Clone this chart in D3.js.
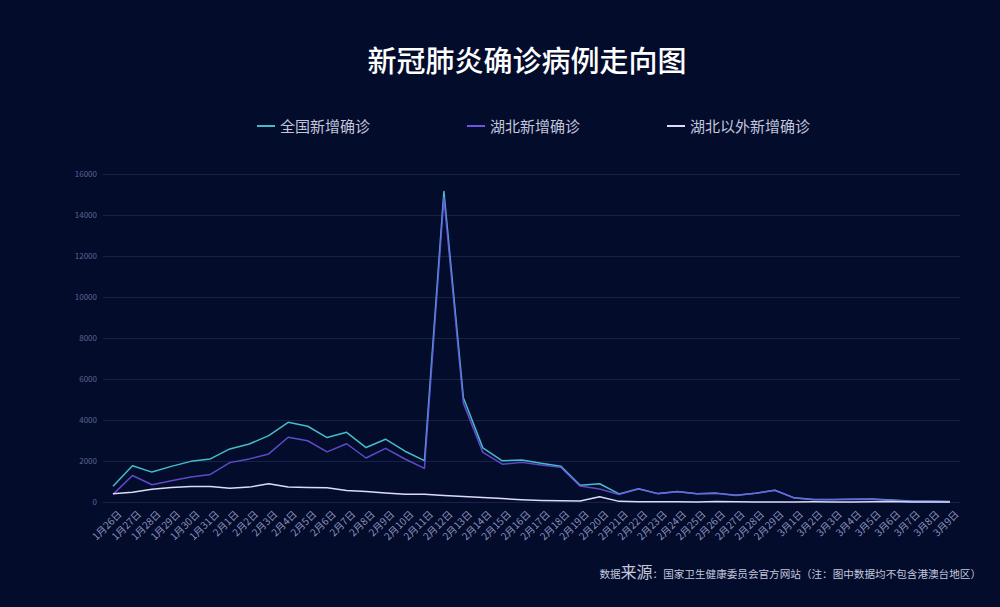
<!DOCTYPE html>
<html><head><meta charset="utf-8">
<script src="https://cdn.jsdelivr.net/npm/d3@7"></script>
<style>
html,body{margin:0;padding:0;background:#040c2c;}
svg{display:block;}
</style></head>
<body>
<svg id="chart" width="1000" height="607"></svg>
<script>
const dates = ["1月26日","1月27日","1月28日","1月29日","1月30日","1月31日",
"2月1日","2月2日","2月3日","2月4日","2月5日","2月6日","2月7日","2月8日","2月9日","2月10日",
"2月11日","2月12日","2月13日","2月14日","2月15日","2月16日","2月17日","2月18日","2月19日","2月20日",
"2月21日","2月22日","2月23日","2月24日","2月25日","2月26日","2月27日","2月28日","2月29日",
"3月1日","3月2日","3月3日","3月4日","3月5日","3月6日","3月7日","3月8日","3月9日"];
const national = [769,1771,1459,1737,1982,2102,2590,2829,3235,3887,3694,3143,3399,2656,3062,2478,
2015,15152,5090,2641,2009,2048,1886,1749,820,889,397,648,409,508,406,433,327,427,573,
202,125,119,139,143,99,44,40,19];
const hubei = [371,1291,840,1032,1220,1347,1921,2103,2345,3156,2987,2447,2841,2147,2618,2097,
1638,14840,4823,2420,1843,1933,1807,1693,775,631,366,630,398,499,401,409,318,423,570,
196,114,115,134,126,74,41,36,17];
const outside = [398,480,619,705,762,755,669,726,890,731,707,696,558,509,444,381,
377,312,267,221,166,115,79,56,45,258,31,18,11,9,5,24,9,4,3,
6,11,4,5,17,25,3,4,2];
const yTicks = [0,2000,4000,6000,8000,10000,12000,14000,16000];
const seriesNames = ["全国新增确诊","湖北新增确诊","湖北以外新增确诊"];
const seriesColors = ["#45bcc8","#6f55e6","#dcdcf6"];

const svg = d3.select("#chart");
const font = "'Noto Sans CJK SC','Noto Sans',sans-serif";

svg.append("rect").attr("width",1000).attr("height",607).attr("fill","#040c2c");

// title
svg.append("text").attr("x",527).attr("y",72).attr("text-anchor","middle")
  .attr("fill","#ffffff").attr("font-family",font).attr("font-size",29).attr("font-weight",500)
  .text("新冠肺炎确诊病例走向图");

const x = d3.scalePoint().domain(dates).range([113,950]);
const y = d3.scaleLinear().domain([0,16000]).range([502,174]);

// grid
const yAxis = svg.append("g").attr("transform","translate(103,0)")
  .call(d3.axisLeft(y).tickValues(yTicks).tickSize(-857).tickPadding(6).tickFormat(d=>d));
yAxis.select(".domain").remove();
yAxis.selectAll(".tick line").attr("stroke","#17214a").attr("stroke-width",1);
yAxis.selectAll(".tick text").attr("fill","#5d6690").attr("font-size",8).attr("font-family",font);

// x axis labels
const xAxis = svg.append("g").attr("transform","translate(0,502)")
  .call(d3.axisBottom(x).tickSize(0).tickPadding(0));
xAxis.select(".domain").remove();
xAxis.selectAll(".tick text")
  .attr("fill","#8a92bc").attr("font-size",10).attr("font-family",font)
  .attr("text-anchor","end")
  .attr("transform","translate(4,8) rotate(-45)")
  .attr("dy","0.7em").attr("dx","0");

const line = d3.line().x((d,i)=>x(dates[i])).y(d=>y(d));
const data = [national, hubei, outside];
data.forEach((s,k)=>{
  svg.append("path").datum(s).attr("d",line).attr("fill","none")
    .attr("stroke",seriesColors[k]).attr("stroke-width",1.5)
    .attr("stroke-linejoin","round").attr("opacity",k===1?0.85:1);
});

// legend
const legendX = [257,467,667];
seriesNames.forEach((n,k)=>{
  const g = svg.append("g").attr("transform",`translate(${legendX[k]},126)`);
  g.append("line").attr("x1",0).attr("x2",18).attr("y1",0).attr("y2",0)
    .attr("stroke",seriesColors[k]).attr("stroke-width",2);
  g.append("text").attr("x",23).attr("y",5.5).attr("fill","#c3c6dc")
    .attr("font-family",font).attr("font-size",15).text(n);
});

// source
const src = svg.append("text").attr("x",981).attr("y",578).attr("text-anchor","end")
  .attr("fill","#c3c7dc").attr("font-family",font).attr("font-size",10.6);
src.append("tspan").text("数据");
src.append("tspan").attr("font-size",16).text("来源");
src.append("tspan").text("：国家卫生健康委员会官方网站（注：图中数据均不包含港澳台地区）");
</script>
</body></html>
